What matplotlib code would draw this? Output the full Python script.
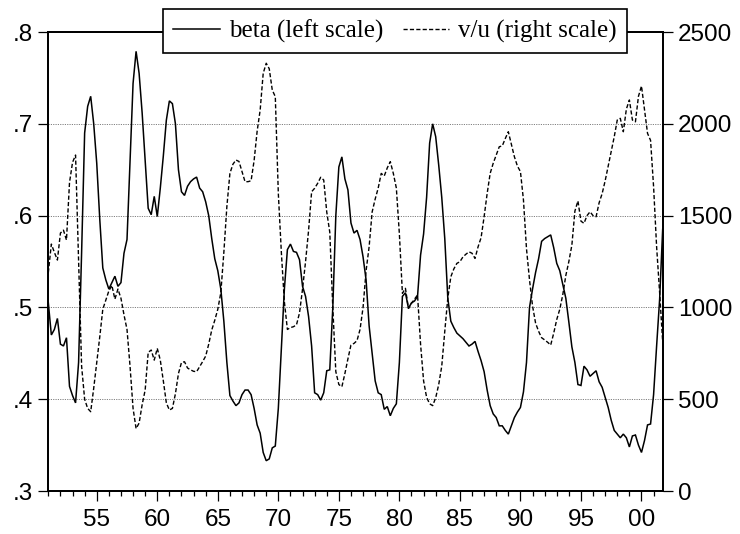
import numpy as np
import matplotlib
matplotlib.use("Agg")
import matplotlib.pyplot as plt
from matplotlib.ticker import FixedLocator, MultipleLocator, FuncFormatter

# ---- data: quarterly, 1951Q1 .. 2001Q4 ----
start_year = 1951
beta = [
    0.505, 0.470, 0.476, 0.488,   # 1951
    0.460, 0.458, 0.467, 0.414,   # 1952
    0.404, 0.396, 0.440, 0.560,   # 1953
    0.690, 0.719, 0.730, 0.700,   # 1954
    0.657, 0.596, 0.543, 0.530,   # 1955
    0.520, 0.527, 0.534, 0.523,   # 1956
    0.527, 0.559, 0.574, 0.660,   # 1957
    0.744, 0.779, 0.755, 0.712,   # 1958
    0.660, 0.608, 0.601, 0.621,   # 1959
    0.599, 0.630, 0.665, 0.704,   # 1960
    0.725, 0.722, 0.700, 0.650,   # 1961
    0.626, 0.622, 0.632, 0.637,   # 1962
    0.640, 0.642, 0.630, 0.626,   # 1963
    0.615, 0.600, 0.575, 0.553,   # 1964
    0.540, 0.520, 0.485, 0.440,   # 1965
    0.404, 0.398, 0.393, 0.396,   # 1966
    0.405, 0.410, 0.410, 0.405,   # 1967
    0.390, 0.372, 0.363, 0.342,   # 1968
    0.333, 0.335, 0.347, 0.349,   # 1969
    0.390, 0.455, 0.520, 0.563,   # 1970
    0.569, 0.561, 0.560, 0.552,   # 1971
    0.523, 0.512, 0.490, 0.458,   # 1972
    0.407, 0.405, 0.399, 0.407,   # 1973
    0.431, 0.432, 0.500, 0.600,   # 1974
    0.653, 0.664, 0.640, 0.628,   # 1975
    0.592, 0.581, 0.584, 0.574,   # 1976
    0.555, 0.530, 0.480, 0.450,   # 1977
    0.420, 0.407, 0.405, 0.389,   # 1978
    0.392, 0.382, 0.390, 0.395,   # 1979
    0.440, 0.512, 0.516, 0.499,   # 1980
    0.505, 0.507, 0.512, 0.557,   # 1981
    0.580, 0.620, 0.679, 0.700,   # 1982
    0.686, 0.655, 0.620, 0.575,   # 1983
    0.510, 0.485, 0.478, 0.472,   # 1984
    0.469, 0.466, 0.462, 0.458,   # 1985
    0.460, 0.463, 0.452, 0.442,   # 1986
    0.430, 0.410, 0.393, 0.384,   # 1987
    0.380, 0.371, 0.371, 0.366,   # 1988
    0.362, 0.371, 0.380, 0.386,   # 1989
    0.391, 0.408, 0.440, 0.500,   # 1990
    0.520, 0.538, 0.553, 0.572,   # 1991
    0.575, 0.577, 0.579, 0.565,   # 1992
    0.548, 0.540, 0.525, 0.510,   # 1993
    0.484, 0.457, 0.440, 0.416,   # 1994
    0.415, 0.436, 0.432, 0.425,   # 1995
    0.428, 0.431, 0.419, 0.413,   # 1996
    0.402, 0.391, 0.377, 0.366,   # 1997
    0.362, 0.358, 0.362, 0.358,   # 1998
    0.348, 0.360, 0.361, 0.350,   # 1999
    0.342, 0.355, 0.372, 0.373,   # 2000
    0.405, 0.458, 0.509, 0.585,   # 2001
]
vu = [
    1190, 1345, 1300, 1258,   # 1951
    1405, 1421, 1367, 1680,   # 1952
    1790, 1830, 1250, 680,    # 1953
    500, 450, 432, 560,       # 1954
    700, 840, 990, 1040,      # 1955
    1090, 1120, 1045, 1100,   # 1956
    1050, 960, 880, 680,      # 1957
    450, 340, 370, 470,       # 1958
    550, 755, 768, 713,       # 1959
    777, 713, 600, 480,       # 1960
    441, 450, 530, 640,       # 1961
    700, 704, 670, 660,       # 1962
    652, 650, 677, 705,       # 1963
    735, 800, 877, 930,       # 1964
    990, 1080, 1300, 1550,    # 1965
    1730, 1780, 1803, 1795,   # 1966
    1740, 1685, 1685, 1690,   # 1967
    1800, 1960, 2075, 2275,   # 1968
    2330, 2300, 2184, 2148,   # 1969
    1621, 1300, 1030, 880,    # 1970
    890, 895, 905, 970,       # 1971
    1100, 1250, 1420, 1630,   # 1972
    1649, 1676, 1709, 1694,   # 1973
    1520, 1410, 1000, 650,    # 1974
    580, 568, 640, 720,       # 1975
    795, 804, 819, 880,       # 1976
    1000, 1200, 1330, 1520,   # 1977
    1590, 1650, 1730, 1716,   # 1978
    1760, 1794, 1730, 1650,   # 1979
    1400, 1077, 1104, 995,    # 1980
    1022, 1045, 1068, 800,    # 1981
    600, 510, 475, 465,       # 1982
    508, 580, 680, 870,       # 1983
    1050, 1167, 1210, 1240,   # 1984
    1249, 1275, 1290, 1303,   # 1985
    1295, 1267, 1330, 1380,   # 1986
    1494, 1620, 1730, 1785,   # 1987
    1830, 1875, 1880, 1920,   # 1988
    1957, 1890, 1821, 1770,   # 1989
    1740, 1585, 1320, 1150,   # 1990
    1008, 915, 870, 835,      # 1991
    823, 810, 795, 860,       # 1992
    934, 990, 1070, 1174,     # 1993
    1250, 1340, 1525, 1580,   # 1994
    1470, 1458, 1500, 1521,   # 1995
    1500, 1494, 1570, 1620,   # 1996
    1690, 1770, 1850, 1930,   # 1997
    2021, 2030, 1957, 2080,   # 1998
    2130, 2021, 2011, 2150,   # 1999
    2206, 2075, 1948, 1910,   # 2000
    1657, 1330, 1080, 813,    # 2001
]
left_ticks = [0.3, 0.4, 0.5, 0.6, 0.7, 0.8]
right_ticks = [0, 500, 1000, 1500, 2000, 2500]
year_labels = [1955, 1960, 1965, 1970, 1975, 1980, 1985, 1990, 1995, 2000]
legend_labels = ["beta (left scale)", "v/u (right scale)"]

x = start_year + np.arange(len(beta)) / 4.0

sans = ["Liberation Sans", "DejaVu Sans"]
serif = ["Liberation Serif", "DejaVu Serif"]
plt.rcParams["font.family"] = sans

fig = plt.figure(figsize=(7.4, 5.34), dpi=100)
ax = fig.add_axes([0.0653, 0.0805, 0.8302, 0.8595])
ax2 = ax.twinx()

l1, = ax.plot(x, beta, color="black", lw=1.1, solid_joinstyle="miter")
l2, = ax2.plot(x, vu, color="black", lw=1.0, dashes=(3.0, 1.6))

ax.set_xlim(x[0], x[-1])
ax.set_ylim(0.3, 0.8)
ax2.set_ylim(0, 2500)

ax.yaxis.set_major_locator(FixedLocator(left_ticks))
ax.yaxis.set_major_formatter(FuncFormatter(lambda v, p: ("%.1f" % v).lstrip("0")))
ax2.yaxis.set_major_locator(FixedLocator(right_ticks))
ax2.yaxis.set_major_formatter(FuncFormatter(lambda v, p: "%d" % v))
ax.xaxis.set_major_locator(FixedLocator(year_labels))
ax.xaxis.set_major_formatter(FuncFormatter(lambda v, p: "%02d" % (int(round(v)) % 100)))
ax.xaxis.set_minor_locator(MultipleLocator(1))

for a in (ax, ax2):
    for s in a.spines.values():
        s.set_linewidth(1.3)
        s.set_color("black")

ax.tick_params(axis="both", which="major", direction="out", length=7, width=0.9,
               labelsize=17.5, colors="black")
ax.tick_params(axis="x", which="major", pad=6)
ax.tick_params(axis="x", which="minor", direction="out", length=3.6, width=0.9)
ax.tick_params(axis="y", right=False, pad=4)
ax2.tick_params(axis="y", which="major", direction="out", length=7, width=0.9,
                labelsize=17.5, pad=4)

ax.grid(axis="y", which="major", color="#808080", lw=0.7, linestyle=(0, (1.2, 1.2)))
ax.set_axisbelow(True)

leg = ax2.legend([l1, l2], legend_labels, loc="upper center",
                 bbox_to_anchor=(0.534, 0.983), bbox_transform=fig.transFigure,
                 ncol=2, frameon=True, fancybox=False, framealpha=1,
                 edgecolor="black", borderpad=0.42, borderaxespad=0,
                 handlelength=1.85, handletextpad=0.36, columnspacing=0.8,
                 prop={"family": serif, "size": 18})
leg.get_frame().set_linewidth(1.2)
leg.set_zorder(10)

fig.savefig("out.png", dpi=100)
